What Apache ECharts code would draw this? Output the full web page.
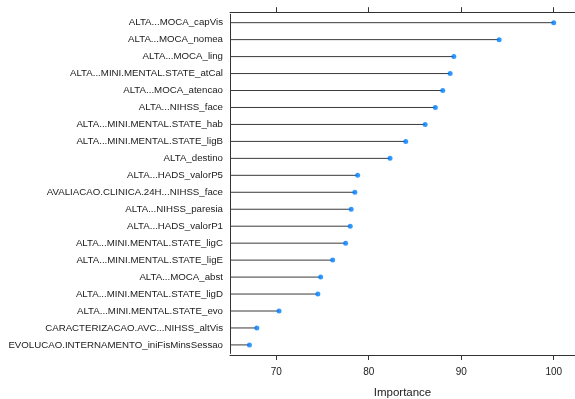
<!DOCTYPE html>
<html>
<head>
<meta charset="utf-8">
<script src="https://cdn.jsdelivr.net/npm/echarts@6/dist/echarts.min.js"></script>
<style>
  html, body { margin: 0; padding: 0; background: #fff; }
  #chart { width: 575px; height: 399px; }
</style>
</head>
<body>
<div id="chart"></div>
<script>
// Variable names, top to bottom
const variables = [
  'ALTA...MOCA_capVis',
  'ALTA...MOCA_nomea',
  'ALTA...MOCA_ling',
  'ALTA...MINI.MENTAL.STATE_atCal',
  'ALTA...MOCA_atencao',
  'ALTA...NIHSS_face',
  'ALTA...MINI.MENTAL.STATE_hab',
  'ALTA...MINI.MENTAL.STATE_ligB',
  'ALTA_destino',
  'ALTA...HADS_valorP5',
  'AVALIACAO.CLINICA.24H...NIHSS_face',
  'ALTA...NIHSS_paresia',
  'ALTA...HADS_valorP1',
  'ALTA...MINI.MENTAL.STATE_ligC',
  'ALTA...MINI.MENTAL.STATE_ligE',
  'ALTA...MOCA_abst',
  'ALTA...MINI.MENTAL.STATE_ligD',
  'ALTA...MINI.MENTAL.STATE_evo',
  'CARACTERIZACAO.AVC...NIHSS_altVis',
  'EVOLUCAO.INTERNAMENTO_iniFisMinsSessao'
];

// Importance score for each variable
const importance = [
  100.0, 94.1, 89.2, 88.8, 88.0, 87.2, 86.1, 84.0, 82.3, 78.8,
  78.5, 78.1, 78.0, 77.5, 76.1, 74.8, 74.5, 70.3, 67.9, 67.1
];

const xTicks = [70, 80, 90, 100];
const axisMin = 65;
const axisMax = 102.3;

const chart = echarts.init(document.getElementById('chart'), null, { renderer: 'canvas' });
const ink = '#1a1a1a';
const font = '"Liberation Sans", Arial, sans-serif';
const axisLine = { show: true, lineStyle: { color: '#333', width: 1 } };

chart.setOption({
  animation: false,
  grid: { left: 230, right: 0, top: 14.2, height: 339.2, outerBoundsMode: 'none', containLabel: false },
  xAxis: [
    {
      type: 'value', position: 'bottom', min: axisMin, max: axisMax, interval: 10,
      offset: 1.6,
      axisLine: axisLine,
      axisTick: { show: true, length: 5, lineStyle: { color: '#333' }, customValues: xTicks },
      axisLabel: { color: ink, fontFamily: font, fontSize: 10, margin: 12.5, customValues: xTicks },
      splitLine: { show: false },
      name: 'Importance', nameLocation: 'middle', nameGap: 31.5,
      nameTextStyle: { color: ink, fontFamily: font, fontSize: 11.5 }
    },
    {
      type: 'value', position: 'top', min: axisMin, max: axisMax, interval: 10,
      offset: 2,
      axisLine: axisLine,
      axisTick: { show: true, length: 5, lineStyle: { color: '#333' }, customValues: xTicks },
      axisLabel: { show: false },
      splitLine: { show: false }
    }
  ],
  yAxis: {
    type: 'category', data: variables, inverse: true,
    axisLine: axisLine,
    axisTick: { show: false },
    axisLabel: { color: ink, fontFamily: font, fontSize: 9.7, margin: 7 },
    splitLine: { show: false }
  },
  series: [
    {
      // stems from the axis start to each importance value
      type: 'custom',
      renderItem: function (params, api) {
        const y = api.value(0);
        const from = api.coord([axisMin, y]);
        const to = api.coord([api.value(1), y]);
        return {
          type: 'line',
          shape: { x1: from[0], y1: from[1], x2: to[0], y2: to[1] },
          style: { stroke: '#3a3a3a', lineWidth: 1 }
        };
      },
      encode: { x: 1, y: 0 },
      data: variables.map((v, i) => [i, importance[i]]),
      z: 2
    },
    {
      type: 'scatter',
      data: importance.map((v, i) => [v, i]),
      symbol: 'circle', symbolSize: 5,
      itemStyle: { color: '#0080ff' },
      z: 3
    }
  ]
});
</script>
</body>
</html>
